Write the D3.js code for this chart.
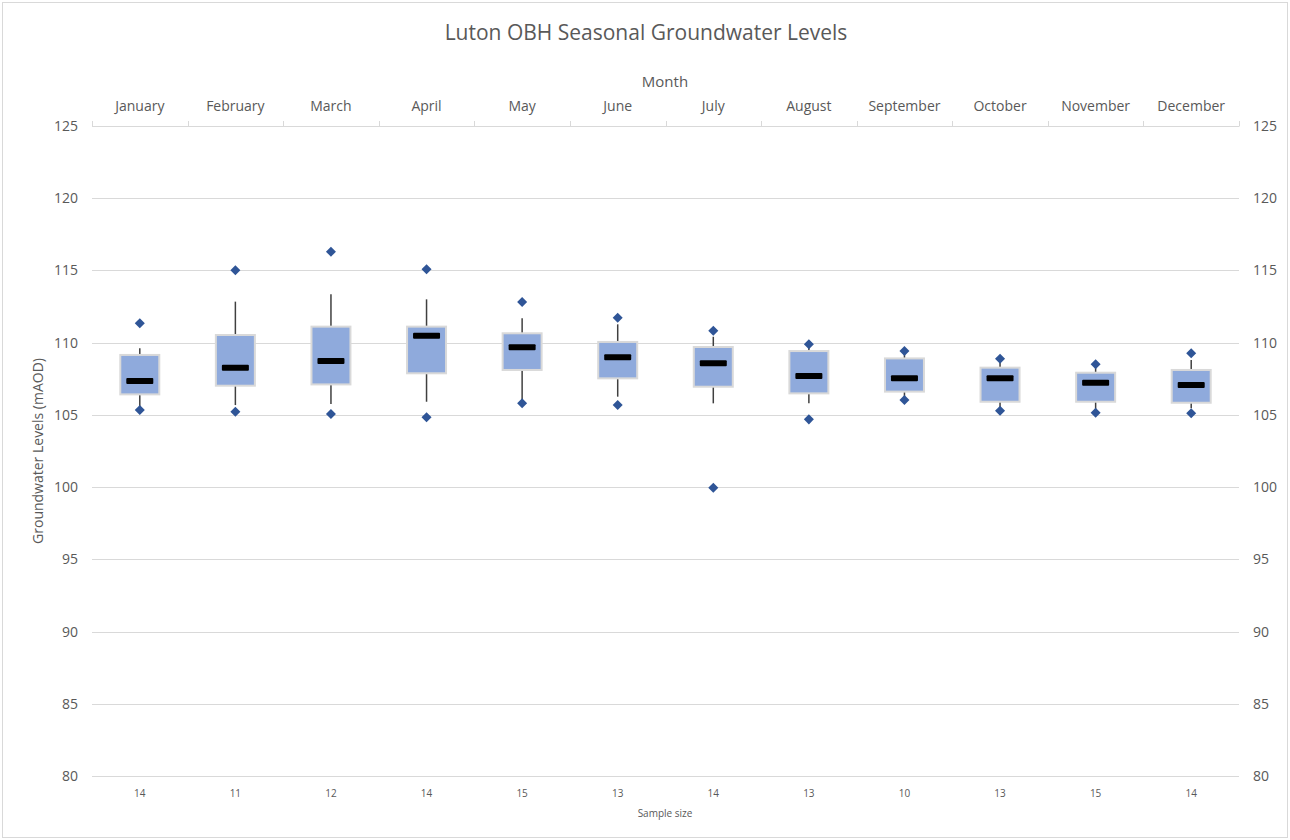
<!DOCTYPE html>
<html>
<head>
<meta charset="utf-8">
<script src="https://cdn.jsdelivr.net/npm/d3@7"></script>
<style>
  html, body { margin: 0; padding: 0; background: #fff; }
  svg { display: block; }
  text { font-family: "Open Sans", "Liberation Sans", sans-serif; fill: #595959; }
</style>
</head>
<body>
<svg id="chart" width="1290" height="840"></svg>
<script>
const months = ["January","February","March","April","May","June","July","August","September","October","November","December"];
const q1Vals     = [106.42, 107.02, 107.11, 107.88, 108.11, 107.53, 106.95, 106.49, 106.61, 105.91, 105.91, 105.84];
const medianVals = [107.35, 108.27, 108.73, 110.48, 109.68, 108.99, 108.57, 107.69, 107.53, 107.53, 107.23, 107.07];
const q3Vals     = [109.15, 110.53, 111.11, 111.11, 110.65, 110.05, 109.70, 109.42, 108.91, 108.27, 107.92, 108.11];
const whiskerHigh = [109.61, 112.84, 113.35, 113.00, 111.69, 111.27, 110.41, 109.89, 109.42, 108.89, 108.50, 108.80];
const whiskerLow  = [105.34, 105.68, 105.75, 105.91, 105.91, 106.26, 105.80, 105.80, 106.03, 105.29, 105.15, 105.46];
const maxVals = [111.34, 115.01, 116.30, 115.08, 112.81, 111.73, 110.83, 109.89, 109.42, 108.89, 108.50, 109.26];
const minVals = [105.34, 105.22, 105.06, 104.83, 105.80, 105.68, 99.95, 104.69, 106.03, 105.29, 105.15, 105.11];
const sampleSizes = [14, 11, 12, 14, 15, 13, 14, 13, 10, 13, 15, 14];
const yTicks = [80, 85, 90, 95, 100, 105, 110, 115, 120, 125];

const svg = d3.select("#chart");
const W = 1290, H = 840;
const plot = { left: 92, right: 1239, top: 126, bottom: 776 };

// chart frame
svg.append("rect").attr("x", 2.5).attr("y", 2.5).attr("width", W - 5).attr("height", H - 5)
  .attr("fill", "#fff").attr("stroke", "#D9D9D9").attr("stroke-width", 1);

const x = d3.scaleBand().domain(months).range([plot.left, plot.right]).paddingInner(0).paddingOuter(0);
const y = d3.scaleLinear().domain([80, 125]).range([plot.bottom, plot.top]);

// gridlines
svg.append("g").selectAll("line").data(yTicks).join("line")
  .attr("x1", plot.left).attr("x2", plot.right)
  .attr("y1", d => Math.round(y(d)) + 0.5).attr("y2", d => Math.round(y(d)) + 0.5)
  .attr("stroke", "#D9D9D9").attr("stroke-width", 1);

// left axis labels
const leftAxis = d3.axisLeft(y).tickValues(yTicks).tickSize(0).tickPadding(14);
const gl = svg.append("g").attr("transform", `translate(${plot.left},0)`).call(leftAxis);
gl.select(".domain").remove();
gl.selectAll("text").attr("font-size", 14).style("fill", "#595959")
  .style("font-family", '"Open Sans", "Liberation Sans", sans-serif');

// right axis labels
const rightAxis = d3.axisRight(y).tickValues(yTicks).tickSize(0).tickPadding(14);
const gr = svg.append("g").attr("transform", `translate(${plot.right},0)`).call(rightAxis);
gr.select(".domain").remove();
gr.selectAll("text").attr("font-size", 14).style("fill", "#595959")
  .style("font-family", '"Open Sans", "Liberation Sans", sans-serif');

// top category axis (tick marks between categories, pointing up)
const tickXs = months.map(m => x(m)).concat([plot.right]);
svg.append("g").selectAll("line").data(tickXs).join("line")
  .attr("x1", d => Math.round(d) + 0.5).attr("x2", d => Math.round(d) + 0.5)
  .attr("y1", Math.round(y(125)) + 0.5).attr("y2", Math.round(y(125)) - 5)
  .attr("stroke", "#D9D9D9").attr("stroke-width", 1);

// month labels
svg.append("g").selectAll("text").data(months).join("text")
  .attr("x", d => x(d) + x.bandwidth() / 2).attr("y", 111)
  .attr("text-anchor", "middle").attr("font-size", 14).text(d => d);

// sample sizes
svg.append("g").selectAll("text").data(sampleSizes).join("text")
  .attr("x", (d, i) => x(months[i]) + x.bandwidth() / 2).attr("y", 797)
  .attr("text-anchor", "middle").attr("font-size", 10).text(d => d);

// titles
svg.append("text").attr("x", 646).attr("y", 40).attr("text-anchor", "middle")
  .attr("font-size", 21).text("Luton OBH Seasonal Groundwater Levels");
svg.append("text").attr("x", 665).attr("y", 87).attr("text-anchor", "middle")
  .attr("font-size", 15).text("Month");
svg.append("text").attr("x", 665).attr("y", 817).attr("text-anchor", "middle")
  .attr("font-size", 10).text("Sample size");
svg.append("text").attr("transform", `translate(43,${(plot.top + plot.bottom) / 2}) rotate(-90)`)
  .attr("text-anchor", "middle").attr("font-size", 14).text("Groundwater Levels (mAOD)");

// boxes
const boxW = 39, medW = 27;
const gBox = svg.append("g");
months.forEach((m, i) => {
  const cx = x(m) + x.bandwidth() / 2;
  // whiskers
  gBox.append("line").attr("x1", cx).attr("x2", cx)
    .attr("y1", y(q3Vals[i])).attr("y2", y(whiskerHigh[i]))
    .attr("stroke", "#404040").attr("stroke-width", 1.5);
  gBox.append("line").attr("x1", cx).attr("x2", cx)
    .attr("y1", y(q1Vals[i])).attr("y2", y(whiskerLow[i]))
    .attr("stroke", "#404040").attr("stroke-width", 1.5);
  // box
  gBox.append("rect").attr("x", cx - boxW / 2).attr("y", y(q3Vals[i]))
    .attr("width", boxW).attr("height", y(q1Vals[i]) - y(q3Vals[i]))
    .attr("fill", "#8FAADC").attr("stroke", "#D9D9D9").attr("stroke-width", 2);
  // median
  gBox.append("rect").attr("x", cx - medW / 2).attr("y", y(medianVals[i]) - 3)
    .attr("width", medW).attr("height", 6).attr("rx", 1)
    .attr("fill", "#000");
});

// max / min diamonds
const diamond = d3.symbol().type(d3.symbolDiamond2).size(64);
const pts = [];
months.forEach((m, i) => { pts.push({ m, v: maxVals[i] }); pts.push({ m, v: minVals[i] }); });
svg.append("g").selectAll("path").data(pts).join("path")
  .attr("d", diamond)
  .attr("transform", d => `translate(${x(d.m) + x.bandwidth() / 2},${y(d.v)})`)
  .attr("fill", "#2F5597");
</script>
</body>
</html>
